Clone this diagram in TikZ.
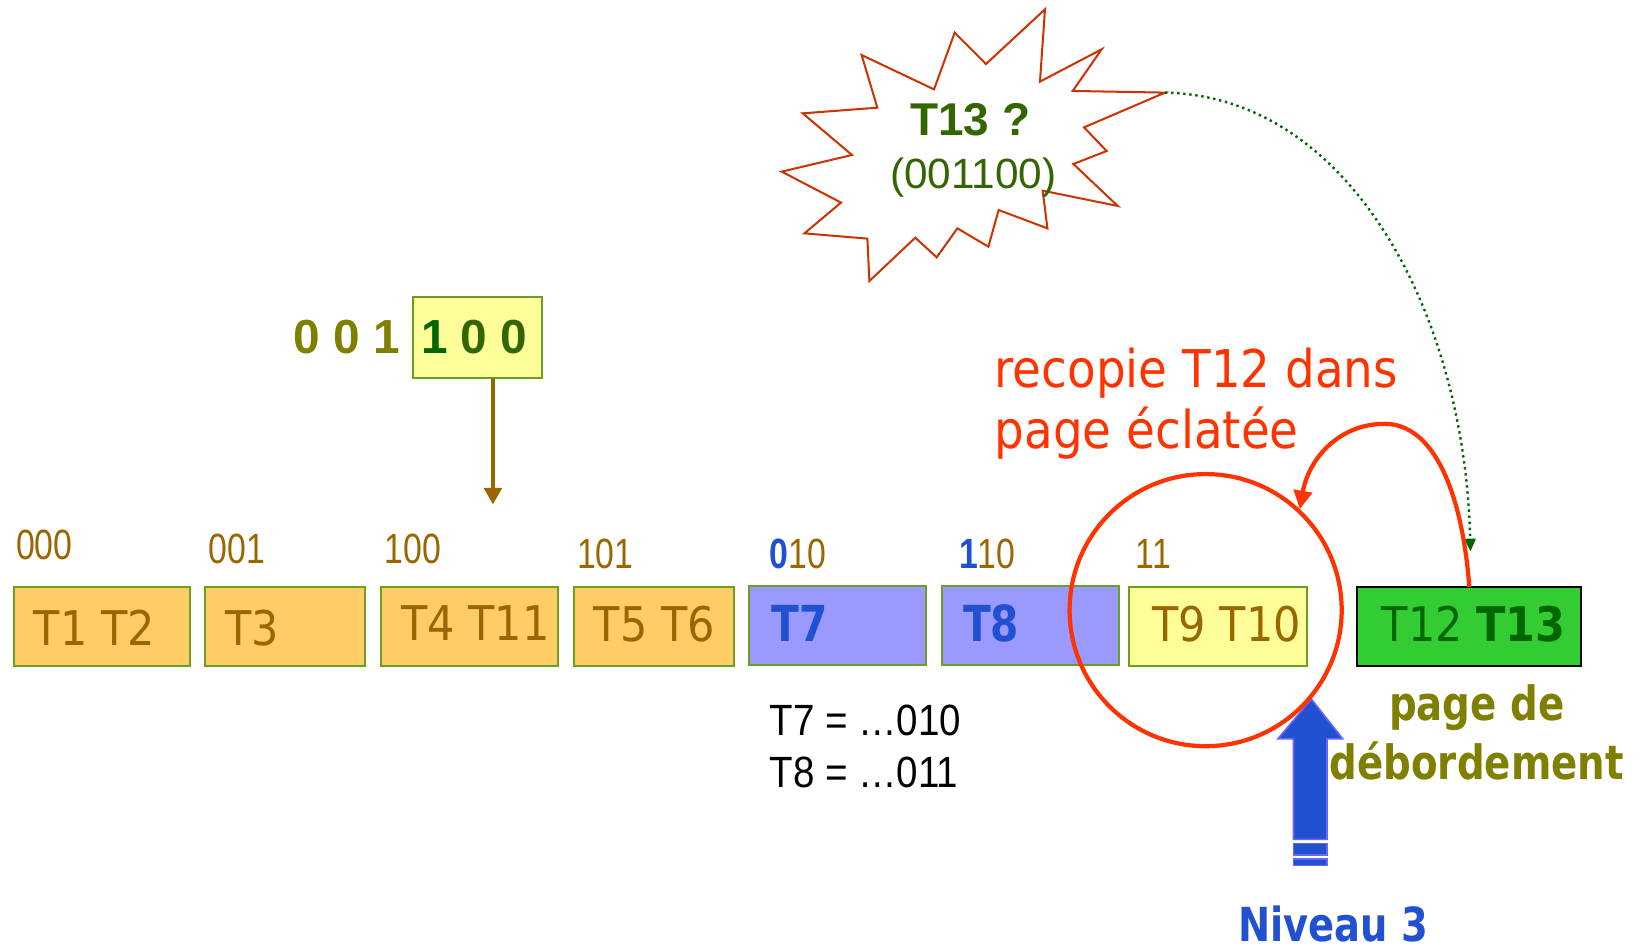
\documentclass[tikz,border=0pt]{standalone}
\usepackage{fontspec}
\usetikzlibrary{arrows.meta}
\newfontfamily\tah[FakeStretch=0.9]{DejaVu Sans}
\newfontfamily\tahb[FakeStretch=0.82]{DejaVu Sans}
\newfontfamily\narr[FakeStretch=0.8]{Liberation Sans}
\newfontfamily\ari{Liberation Sans}
\newfontfamily\arin[FakeStretch=0.88]{Liberation Sans}
\newcommand\fs[1]{\fontsize{#1}{#1}\selectfont}
\definecolor{brn}{HTML}{996600}
\definecolor{olv}{HTML}{808000}
\definecolor{dgreen}{HTML}{336600}
\definecolor{ddgreen}{HTML}{006600}
\definecolor{blu}{HTML}{2150D0}
\definecolor{lav}{HTML}{9999FF}
\definecolor{org}{HTML}{FFCC66}
\definecolor{ylw}{HTML}{FFFF99}
\definecolor{grn}{HTML}{33CC33}
\definecolor{edge}{HTML}{6E9E1E}
\definecolor{rd}{HTML}{FF3300}
\definecolor{starred}{HTML}{CC3300}
\definecolor{arrowedge}{HTML}{6666FF}
\tikzset{
  pg/.style n args={3}{draw=edge, line width=1.1pt, fill=#1,
    minimum width=#2*0.02cm, minimum height=#3*0.02cm, inner sep=0, outer sep=0},
  txt/.style={inner sep=0, anchor=base west},
  lab/.style={txt, font=\narr\fs{23}, text=brn},
  inbox/.style={txt, font=\tah\fs{26}, text=brn},
  boldin/.style={txt, font=\tahb\bfseries\fs{27}, text=blu},
}
\begin{document}
\begin{tikzpicture}[x=0.02cm, y=-0.02cm]
\useasboundingbox (0,0) rectangle (1568,909);

% pages of the directory
\node[pg={org}{169}{75}] (p000) at (97.5,598.5) {};
\node[pg={org}{153}{75}] (p001) at (272.5,598.5) {};
\node[pg={org}{169}{75}] (p100) at (448.5,598.5) {};
\node[pg={org}{153}{75}] (p101) at (624.5,598.5) {};
\node[pg={lav}{169}{75}] (p010) at (800.5,597.5) {};
\node[pg={lav}{169}{75}] (p110) at (984.5,597.5) {};
\node[pg={ylw}{170}{75}] (p11) at (1164,598.5) {};
\node[pg={grn}{214}{75}, draw=black] (pOv) at (1404,598.5) {};

% page contents
\node[inbox] (t000) at (32,617) {T1 T2};
\node[inbox] (t001) at (215,617) {T3};
\node[inbox] (t100) at (383,612) {T4 T11};
\node[inbox] (t101) at (567,613) {T5 T6};
\node[boldin] (t010) at (737,613) {T7};
\node[boldin] (t110) at (920,613) {T8};
\node[inbox] (t11) at (1101,613) {T9 T10};
\node[inbox, text=ddgreen] (tOv) at (1320,613) {T12 \textbf{T13}};

% hash prefixes
\node[lab] (l000) at (15,535) {000};
\node[lab] (l001) at (199,538) {001};
\node[lab] (l100) at (367,538) {100};
\node[lab] (l101) at (551,543) {101};
\node[lab] (l010) at (735,543) {{\bfseries\color{blu}0}10};
\node[lab] (l110) at (916,543) {{\bfseries\color{blu}1}10};
\node[lab] (l11) at (1085,543) {11};

% key bits
\node[pg={ylw}{123}{77}] (key) at (456.5,322.5) {};
\node[txt, font=\ari\bfseries\fs{26}, text=olv] (pre) at (280,338) {0 0 1};
\node[txt, font=\ari\bfseries\fs{26}, text=dgreen] (suf) at (402,338) {{\color{ddgreen}1} 0 0};
\coordinate (kEnd) at (471,482);
\draw[brn, line width=2.2pt, -{Triangle[length=9pt,width=9.5pt]}] (key.south -| kEnd) -- (kEnd);

% T7 / T8 note
\node[txt, font=\arin\fs{23.8}] (eq1) at (735,703) {T7 = …010};
\node[txt, font=\arin\fs{23.8}] (eq2) at (735,752) {T8 = …011};

% burst with the new tuple
\draw[draw=starred, line width=1.1pt, fill=white, line join=miter]
  (998.5,8.9) -- (993.7,78.0) -- (1052.7,47.1) -- (1025.0,86.9) -- (1113.2,88.5)
  -- (1035.8,121.7) -- (1057.4,144.3) -- (1025.6,156.7) -- (1068.0,196.8)
  -- (996.3,182.2) -- (1000.8,218.2) -- (954.2,200.7) -- (944.4,235.7)
  -- (914.8,218.2) -- (895.0,245.9) -- (874.6,227.1) -- (830.7,268.5)
  -- (828.8,228.0) -- (768.6,223.0) -- (803.6,193.6) -- (746.9,164.0)
  -- (814.1,148.1) -- (767.0,108.3) -- (838.3,102.9) -- (823.3,52.6)
  -- (892.5,85.4) -- (912.2,31.2) -- (942.1,61.2) -- cycle;
\coordinate (starR) at (1113.2,88.5);
\node[font=\ari\bfseries\fs{25}, text=dgreen, inner sep=0, anchor=base] (q) at (927,129) {T13 ?};
\node[font=\ari\fs{23}, text=dgreen, inner sep=0, anchor=base] (code) at (930,180) {(001100)};

% insertion path into the overflow page
\coordinate (dEnd) at (1405,527);
\draw[ddgreen, line width=1.3pt, dotted, -{Triangle[length=7pt,width=6pt]}]
  (starR) .. controls (1290,92) and (1400,300) .. (dEnd);

% level 3 pointer
\draw[draw=arrowedge, fill=blu, line width=0.9pt]
  (1253,668) -- (1283,706) -- (1268,706) -- (1268,802) -- (1236,802)
  -- (1236,706) -- (1221,706) -- cycle;
\draw[draw=arrowedge, fill=blu, line width=0.9pt] (1236,806) rectangle (1268,817);
\draw[draw=arrowedge, fill=blu, line width=0.9pt] (1236,821) rectangle (1268,827);
\node[font=\tahb\bfseries\fs{25.5}, text=blu, inner sep=0, anchor=base] (niv) at (1274,900) {Niveau 3};

% split page and copy back
\node[draw=rd, line width=2.3pt, circle, minimum size=260*0.02cm, inner sep=0] (circ) at (1152,583) {};
\draw[rd, line width=2.3pt, -{Triangle[length=10pt,width=10pt]}]
  (pOv.north) .. controls (1397,470) and (1370,405) .. (1323,405)
  .. controls (1278,405) and (1250,440) .. (circ.47);
\node[txt, font=\tah\fs{28.3}, text=rd] (r1) at (950,370) {recopie T12 dans};
\node[txt, font=\tah\fs{28.3}, text=rd] (r2) at (950,429) {page éclatée};

% overflow page caption
\node[font=\tahb\bfseries\fs{25.7}, text=olv, inner sep=0, anchor=base] (ov1) at (1411,688) {page de};
\node[font=\tahb\bfseries\fs{25.7}, text=olv, inner sep=0, anchor=base] (ov2) at (1411,745) {débordement};
\end{tikzpicture}
\end{document}
